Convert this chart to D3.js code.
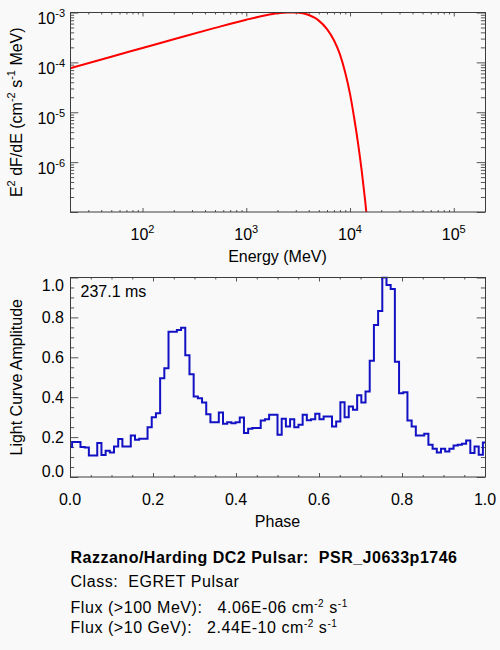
<!DOCTYPE html>
<html><head><meta charset="utf-8">
<script src="https://cdn.jsdelivr.net/npm/d3@7"></script>
<style>
html,body{margin:0;padding:0;background:#f9f9f9;}
svg{display:block;font-family:"Liberation Sans",Arial,Helvetica,sans-serif;}
</style></head><body>
<svg id="c" width="500" height="650"></svg>
<script>
// ---- Spectrum panel data ----
const energy = [20, 50, 100, 200, 500, 1000, 1500, 2000, 2500, 3000, 3500, 4000, 4500, 5000, 6000, 7000, 8000, 9000, 10000, 11000, 12000, 13000, 14000, 15000];
const e2dfde = [7.6e-5, 1.30e-4, 1.94e-4, 2.90e-4, 4.91e-4, 7.16e-4, 8.69e-4, 9.65e-4, 1.0e-3, 1.0e-3, 9.65e-4, 8.91e-4, 7.96e-4, 6.88e-4, 4.66e-4, 2.78e-4, 1.45e-4, 6.2e-5, 2.34e-5, 7.4e-6, 2.24e-6, 6.4e-7, 1.68e-7, 4.0e-8];
const energyRange = [20, 2e5];
const fluxRange = [1e-7, 1e-3];
const energyMajor = [100, 1000, 10000, 100000];
const energyExp = ["2", "3", "4", "5"];
const fluxMajor = [1e-3, 1e-4, 1e-5, 1e-6, 1e-7];
const fluxLabelled = [1e-3, 1e-4, 1e-5, 1e-6];
const fluxExp = ["-3", "-4", "-5", "-6"];

// ---- Light curve data (100 phase bins) ----
const amplitude = [
  0.15, 0.175, 0.175, 0.15, 0.148, 0.108, 0.108, 0.17, 0.11, 0.132,
  0.123, 0.153, 0.19, 0.153, 0.153, 0.208, 0.187, 0.192, 0.192, 0.25,
  0.30, 0.32, 0.495, 0.545, 0.728, 0.728, 0.737, 0.748, 0.61, 0.515,
  0.403, 0.395, 0.373, 0.315, 0.275, 0.275, 0.323, 0.267, 0.275, 0.27,
  0.275, 0.298, 0.22, 0.242, 0.245, 0.245, 0.283, 0.29, 0.312, 0.312,
  0.212, 0.292, 0.253, 0.29, 0.25, 0.262, 0.312, 0.285, 0.29, 0.317,
  0.29, 0.303, 0.303, 0.253, 0.278, 0.375, 0.30, 0.353, 0.337, 0.41,
  0.373, 0.428, 0.583, 0.762, 0.832, 1.0, 0.962, 0.942, 0.578, 0.42,
  0.425, 0.283, 0.253, 0.208, 0.208, 0.217, 0.162, 0.142, 0.123, 0.142,
  0.128, 0.142, 0.158, 0.162, 0.167, 0.183, 0.12, 0.153, 0.112, 0.173
];
const phase = d3.range(amplitude.length).map(i => i / (amplitude.length - 1));
const phaseRange = [0, 1];
const ampRange = [0, 1];
const phaseMajor = [0, 0.2, 0.4, 0.6, 0.8, 1.0];
const phaseLabels = ["0.0", "0.2", "0.4", "0.6", "0.8", "1.0"];
const ampMajor = [0, 0.2, 0.4, 0.6, 0.8, 1.0];
const ampLabels = ["0.0", "0.2", "0.4", "0.6", "0.8", "1.0"];
const periodLabel = "237.1 ms";

// ---- Info text ----
const infoTitle = "Razzano/Harding DC2 Pulsar:  PSR_J0633p1746";
const infoClass = "Class:  EGRET Pulsar";
const infoFlux = [
  {label: "Flux (>100 MeV):   ", value: "4.06E-06"},
  {label: "Flux (>10 GeV):   ", value: "2.44E-10"}
];

// ---- Layout ----
const svg = d3.select("#c");
const L = 70, R = 485;
const T1 = 12.5, B1 = 212;
const T2 = 277.5, B2 = 477;
const axisColor = "#3c3c3c", tickColor = "#555";
const fs = 16;

svg.append("rect").attr("width", 500).attr("height", 650).attr("fill", "#f9f9f9");

function tickAxis(axisFn, scale, vals, len, transform) {
  svg.append("g").attr("transform", transform)
    .call(axisFn(scale).tickValues(vals).tickSizeInner(-len).tickSizeOuter(0).tickFormat(""))
    .call(g => g.select(".domain").remove())
    .call(g => g.selectAll("line").attr("stroke", tickColor).attr("stroke-width", 1));
}
function box(top, bottom) {
  svg.append("rect").attr("x", L + 0.5).attr("y", top).attr("width", R - L)
    .attr("height", bottom - top).attr("fill", "none")
    .attr("stroke", axisColor).attr("stroke-width", 1);
}

// ===== Top panel: spectrum =====
const xE = d3.scaleLog().domain(energyRange).range([L, R]);
const yF = d3.scaleLog().domain(fluxRange).range([B1, T1]);
const xLen1 = 0.02 * (B1 - T1), yLen1 = 0.02 * (R - L);
const eMinor = xE.ticks().filter(v => !energyMajor.includes(v));
const fMinor = yF.ticks().filter(v => !fluxMajor.some(m => Math.abs(m - v) / m < 1e-6));

tickAxis(d3.axisBottom, xE, energyMajor, xLen1, `translate(0,${B1})`);
tickAxis(d3.axisBottom, xE, eMinor, xLen1 / 2, `translate(0,${B1})`);
tickAxis(d3.axisTop, xE, energyMajor, xLen1, `translate(0,${T1})`);
tickAxis(d3.axisTop, xE, eMinor, xLen1 / 2, `translate(0,${T1})`);
tickAxis(d3.axisLeft, yF, fluxMajor, yLen1, `translate(${L},0)`);
tickAxis(d3.axisLeft, yF, fMinor, yLen1 / 2, `translate(${L},0)`);
tickAxis(d3.axisRight, yF, fluxMajor, yLen1, `translate(${R},0)`);
tickAxis(d3.axisRight, yF, fMinor, yLen1 / 2, `translate(${R},0)`);

svg.append("clipPath").attr("id", "clip1").append("rect")
  .attr("x", L).attr("y", T1).attr("width", R - L).attr("height", B1 - T1);
const spec = energy.map((e, i) => [e, e2dfde[i]]);
svg.append("path").datum(spec)
  .attr("clip-path", "url(#clip1)")
  .attr("fill", "none").attr("stroke", "#ff0000").attr("stroke-width", 2)
  .attr("d", d3.line().x(d => xE(d[0])).y(d => yF(d[1])).curve(d3.curveMonotoneX));
box(T1, B1);

// x labels (10^n)
energyMajor.forEach((v, i) => {
  const t = svg.append("text").attr("x", xE(v)).attr("y", 240)
    .attr("text-anchor", "middle").attr("font-size", fs).attr("fill", "#000");
  t.append("tspan").text("10");
  t.append("tspan").attr("font-size", 11).attr("dy", -7).text(energyExp[i]);
});
// y labels
fluxLabelled.forEach((v, i) => {
  const t = svg.append("text").attr("x", 65).attr("y", yF(v) + 11.5)
    .attr("text-anchor", "end").attr("font-size", fs).attr("fill", "#000");
  t.append("tspan").text("10");
  t.append("tspan").attr("font-size", 11).attr("dy", -7).text(fluxExp[i]);
});
svg.append("text").attr("x", (L + R) / 2).attr("y", 262).attr("text-anchor", "middle")
  .attr("font-size", fs).text("Energy (MeV)");
{
  const t = svg.append("text").attr("transform", `translate(22,${(T1 + B1) / 2}) rotate(-90)`)
    .attr("text-anchor", "middle").attr("font-size", fs).style("white-space", "pre");
  t.append("tspan").text("E");
  t.append("tspan").attr("font-size", 11).attr("dy", -7).text("2");
  t.append("tspan").attr("dy", 7).text(" dF/dE (cm");
  t.append("tspan").attr("font-size", 11).attr("dy", -7).text("-2");
  t.append("tspan").attr("dy", 7).text(" s");
  t.append("tspan").attr("font-size", 11).attr("dy", -7).text("-1");
  t.append("tspan").attr("dy", 7).text(" MeV)");
}

// ===== Bottom panel: light curve =====
const xP = d3.scaleLinear().domain(phaseRange).range([L, R]);
const yA = d3.scaleLinear().domain(ampRange).range([B2, T2]);
const xLen2 = 0.02 * (B2 - T2), yLen2 = 0.02 * (R - L);
const pMinor = xP.ticks(20).filter(v => !phaseMajor.some(m => Math.abs(m - v) < 1e-9));
const aMinor = yA.ticks(20).filter(v => !ampMajor.some(m => Math.abs(m - v) < 1e-9));

tickAxis(d3.axisBottom, xP, phaseMajor, xLen2, `translate(0,${B2})`);
tickAxis(d3.axisBottom, xP, pMinor, xLen2 / 2, `translate(0,${B2})`);
tickAxis(d3.axisTop, xP, phaseMajor, xLen2, `translate(0,${T2})`);
tickAxis(d3.axisTop, xP, pMinor, xLen2 / 2, `translate(0,${T2})`);
tickAxis(d3.axisLeft, yA, ampMajor, yLen2, `translate(${L},0)`);
tickAxis(d3.axisLeft, yA, aMinor, yLen2 / 2, `translate(${L},0)`);
tickAxis(d3.axisRight, yA, ampMajor, yLen2, `translate(${R},0)`);
tickAxis(d3.axisRight, yA, aMinor, yLen2 / 2, `translate(${R},0)`);

svg.append("clipPath").attr("id", "clip2").append("rect")
  .attr("x", L).attr("y", T2 - 1).attr("width", R - L).attr("height", B2 - T2 + 2);
const lc = phase.map((p, i) => [p, amplitude[i]]);
svg.append("path").datum(lc)
  .attr("clip-path", "url(#clip2)")
  .attr("fill", "none").attr("stroke", "#1212c4").attr("stroke-width", 2)
  .attr("stroke-linejoin", "miter")
  .attr("d", d3.line().x(d => xP(d[0])).y(d => yA(d[1])).curve(d3.curveStep));
box(T2, B2);

phaseMajor.forEach((v, i) => {
  svg.append("text").attr("x", xP(v)).attr("y", 505).attr("text-anchor", "middle")
    .attr("font-size", fs).text(phaseLabels[i]);
});
ampMajor.forEach((v, i) => {
  const yb = Math.min(Math.max(yA(v) + 5.5, T2 + 13.5), B2);
  svg.append("text").attr("x", 64).attr("y", yb).attr("text-anchor", "end")
    .attr("font-size", fs).text(ampLabels[i]);
});
svg.append("text").attr("x", (L + R) / 2).attr("y", 527).attr("text-anchor", "middle")
  .attr("font-size", fs).text("Phase");
svg.append("text").attr("transform", `translate(22,${(T2 + B2) / 2}) rotate(-90)`)
  .attr("text-anchor", "middle").attr("font-size", fs).text("Light Curve Amplitude");
svg.append("text").attr("x", 80.5).attr("y", 296.5).attr("font-size", fs).text(periodLabel);

// ===== Info block =====
const ls = 0.55;
svg.append("text").attr("x", 70.5).attr("y", 563).attr("font-size", fs).attr("font-weight", "bold")
  .attr("letter-spacing", 0.5).style("white-space", "pre").text(infoTitle);
svg.append("text").attr("x", 70.5).attr("y", 587).attr("font-size", fs)
  .attr("letter-spacing", ls).style("white-space", "pre").text(infoClass);
infoFlux.forEach((f, i) => {
  const t = svg.append("text").attr("x", 70.5).attr("y", 612.5 + i * 20.5).attr("font-size", fs)
    .attr("letter-spacing", ls).style("white-space", "pre");
  t.append("tspan").text(f.label + f.value + " cm");
  t.append("tspan").attr("font-size", 10).attr("dy", -6).text("-2");
  t.append("tspan").attr("dy", 6).text(" s");
  t.append("tspan").attr("font-size", 10).attr("dy", -6).text("-1");
});
</script>
</body></html>
